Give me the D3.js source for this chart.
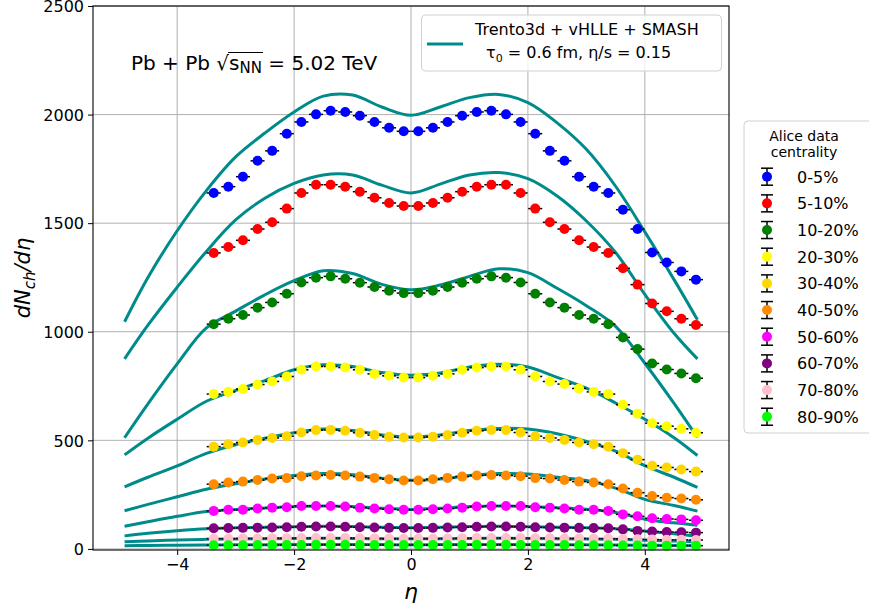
<!DOCTYPE html>
<html>
<head>
<meta charset="utf-8">
<script src="https://cdn.jsdelivr.net/npm/d3@7"></script>
<style>
  body { margin: 0; background: #fff; }
  text { font-family: "DejaVu Sans", sans-serif; fill: #000; }
</style>
</head>
<body>
<svg width="869" height="606"></svg>
<script>
//data: ALICE points
const eta = [-3.375,-3.125,-2.875,-2.625,-2.375,-2.125,-1.875,-1.625,-1.375,-1.125,-0.875,-0.625,-0.375,-0.125,
  0.125,0.375,0.625,0.875,1.125,1.375,1.625,1.875,2.125,2.375,2.625,2.875,3.125,3.375,3.625,3.875,4.125,4.375,4.625,4.875];

const c0_5 = [1639,1668,1714,1787,1833,1912,1966,2001,2018,2012,1995,1966,1939,1923,1923,1939,1966,1995,2012,2018,2001,1966,1912,1833,1787,1714,1668,1639,1562,1473,1365,1319,1278,1240];
const c5_10 = [1363,1390,1421,1473,1504,1567,1639,1677,1677,1668,1645,1617,1593,1579,1579,1593,1617,1645,1668,1677,1677,1639,1567,1504,1473,1421,1390,1363,1292,1217,1130,1094,1060,1031];
const c10_20 = [1035,1060,1077,1111,1135,1175,1227,1249,1255,1244,1226,1206,1189,1178,1178,1189,1206,1226,1244,1255,1249,1227,1175,1135,1111,1077,1060,1035,974,920,854,826,808,786];
const c20_30 = [713,723,736,757,771,794,825,840,840,835,825,806,797,789,789,797,806,825,835,840,840,825,794,771,759,739,723,713,664,622,579,565,553,535];
const c30_40 = [471,482,490,502,511,519,536,547,548,544,535,524,516,513,513,516,524,535,544,548,547,536,519,511,502,490,482,471,441,411,383,375,366,356];
const c40_50 = [298,306,310,317,324,326,335,338,340,338,333,327,321,315,315,321,327,333,338,340,338,335,326,324,317,310,306,298,278,259,244,236,232,226];
const c50_60 = [175,180,180,186,190,192,198,198,198,195,190,186,183,180,180,183,186,190,195,198,198,198,192,190,186,180,180,175,159,150,141,138,136,132];
const c60_70 = [95,96,97,98,99,100,102,103,103,102,100,99,97,96,96,97,99,100,102,103,103,102,100,99,98,97,96,95,90,83,80,78,77,75];
const c70_80 = [47,47,48,48,49,49,50,50,50,50,49,48,47,47,47,47,48,49,50,50,50,50,49,49,48,48,47,47,46,44,43,42,42,41];
const c80_90 = [17,17,17,18,18,18,18,19,19,19,18,18,18,18,18,18,18,18,19,19,19,18,18,18,18,17,17,17,16,16,15,15,15,15];

const centLabels = ["0-5%","5-10%","10-20%","20-30%","30-40%","40-50%","50-60%","60-70%","70-80%","80-90%"];
const centColors = ["#0000ff","#ff0000","#008000","#ffff00","#ffd700","#ff8c00","#ff00ff","#800080","#ffc0cb","#00ff00"];

//data: model curves
const mEta = [-4.9,-4.5,-4,-3.5,-3,-2.5,-2,-1.5,-1,-0.5,0,0.5,1,1.5,2,2.5,3,3.5,4,4.5,4.9];
const m0_5 = [1046,1250,1465,1650,1805,1915,2012,2085,2090,2035,1997,2035,2078,2093,2055,1962,1840,1670,1460,1240,1055];
const m5_10 = [875,1030,1205,1370,1515,1615,1683,1722,1722,1675,1639,1680,1722,1733,1705,1625,1510,1365,1172,993,875];
const m10_20 = [512,668,852,1018,1095,1170,1235,1281,1268,1218,1193,1215,1255,1290,1272,1200,1120,1025,855,670,513];
const m20_30 = [433,510,597,680,730,775,825,848,840,812,800,810,838,850,838,790,740,672,597,512,430];
const m30_40 = [286,330,382,440,480,510,535,552,545,525,515,525,545,555,552,530,495,450,383,330,283];
const m40_50 = [176,205,240,275,300,322,338,347,342,325,316,322,338,347,345,330,315,280,228,200,174];
const m50_60 = [104,125,150,172,182,188,195,198,195,187,182,187,195,198,195,190,183,168,137,120,109];
const m60_70 = [60,72,84,93,97,100,102,104,103,100,98,100,103,104,102,100,98,93,82,70,58];
const m70_80 = [33,37,41,44,46,47,48,49,48,47,47,47,48,49,48,47,46,44,40,36,33];
const m80_90 = [15,16,17,18,19,19,20,20,20,20,19,20,20,20,20,19,19,18,17,16,15];

const xTicks = [-4,-2,0,2,4];
const yTicks = [0,500,1000,1500,2000,2500];

const dataSets = [c0_5,c5_10,c10_20,c20_30,c30_40,c40_50,c50_60,c60_70,c70_80,c80_90];
const modelSets = [m0_5,m5_10,m10_20,m20_30,m30_40,m40_50,m50_60,m60_70,m70_80,m80_90];

const teal = "#008b8b";

//plot box
const plot = {left: 93, right: 729, top: 6, bottom: 550};

const xScale = d3.scaleLinear().domain([-5.44, 5.44]).range([plot.left, plot.right]);
const yScale = d3.scaleLinear().domain([-5, 2500]).range([plot.bottom, plot.top]);

const svg = d3.select("svg");
svg.append("rect").attr("width", 869).attr("height", 606).attr("fill", "#fff");

//grid
svg.append("g").selectAll("line").data(xTicks).join("line")
  .attr("x1", d => xScale(d)).attr("x2", d => xScale(d))
  .attr("y1", plot.top).attr("y2", plot.bottom)
  .attr("stroke", "#b0b0b0").attr("stroke-width", 1);
svg.append("g").selectAll("line").data(yTicks).join("line")
  .attr("x1", plot.left).attr("x2", plot.right)
  .attr("y1", d => yScale(d)).attr("y2", d => yScale(d))
  .attr("stroke", "#b0b0b0").attr("stroke-width", 1);

//model lines
const line = d3.line()
  .x((d, i) => xScale(mEta[i]))
  .y(d => yScale(d))
  .curve(d3.curveCatmullRom);

svg.append("g").selectAll("path").data(modelSets).join("path")
  .attr("d", d => line(d))
  .attr("fill", "none")
  .attr("stroke", teal)
  .attr("stroke-width", 3);

//data points (caps behind markers)
dataSets.forEach(function(vals, k) {
  const g = svg.append("g");
  g.selectAll("line").data(vals).join("line")
    .attr("x1", (d, i) => xScale(eta[i]) - 7).attr("x2", (d, i) => xScale(eta[i]) + 7)
    .attr("y1", d => yScale(d)).attr("y2", d => yScale(d))
    .attr("stroke", "#000").attr("stroke-width", 1.5);
  g.selectAll("circle").data(vals).join("circle")
    .attr("cx", (d, i) => xScale(eta[i]))
    .attr("cy", d => yScale(d))
    .attr("r", 5)
    .attr("fill", centColors[k]);
});

//axes
const xAxis = d3.axisBottom(xScale).tickValues(xTicks).tickSize(5).tickPadding(4).tickSizeOuter(0);
const yAxis = d3.axisLeft(yScale).tickValues(yTicks).tickSize(5).tickPadding(4).tickSizeOuter(0)
  .tickFormat(d3.format("d"));

const gx = svg.append("g").attr("transform", "translate(0," + plot.bottom + ")").call(xAxis);
const gy = svg.append("g").attr("transform", "translate(" + plot.left + ",0)").call(yAxis);
[gx, gy].forEach(function(g) {
  g.select(".domain").remove();
  g.selectAll("text").style("font-size", "16px").style("font-family", "DejaVu Sans");
  g.selectAll("line").attr("stroke", "#000");
});
gy.selectAll("text").attr("dy", "0.36em");

//frame
svg.append("rect")
  .attr("x", plot.left).attr("y", plot.top)
  .attr("width", plot.right - plot.left).attr("height", plot.bottom - plot.top)
  .attr("fill", "none").attr("stroke", "#000").attr("stroke-width", 1.1);

//axis labels
svg.append("text")
  .attr("x", xScale(0)).attr("y", 599)
  .style("text-anchor", "middle")
  .style("font-size", "22px").style("font-style", "italic")
  .text("η");

const yl = svg.append("text")
  .attr("transform", "translate(30," + ((plot.top + plot.bottom) / 2) + ") rotate(-90)")
  .style("text-anchor", "middle")
  .style("font-size", "21px").style("font-style", "italic");
yl.append("tspan").text("dN");
yl.append("tspan").attr("dy", 5).style("font-size", "15px").text("ch");
yl.append("tspan").attr("dy", -5).text("/dη");

//annotation
const ann = svg.append("text").attr("x", 131).attr("y", 70).style("font-size", "20px");
ann.append("tspan").text("Pb + Pb ");
ann.append("tspan").text("√");
ann.append("tspan").text("s");
ann.append("tspan").attr("dy", 3).style("font-size", "15px").text("NN");
ann.append("tspan").attr("dy", -3).text(" = 5.02 TeV");
// overline of the square root, from the radical to the end of the subscript
const nnEnd = ann.node().getEndPositionOfChar(11);
const radEnd = ann.node().getEndPositionOfChar(8);
svg.append("line")
  .attr("x1", radEnd.x - 1).attr("x2", nnEnd.x + 1)
  .attr("y1", 52.5).attr("y2", 52.5)
  .attr("stroke", "#000").attr("stroke-width", 1);

//model legend
svg.append("rect")
  .attr("x", 421.5).attr("y", 15).attr("width", 300).attr("height", 56).attr("rx", 4)
  .attr("fill", "#fff").attr("fill-opacity", 0.8).attr("stroke", "#d0d0d0");
svg.append("line")
  .attr("x1", 427).attr("x2", 463).attr("y1", 44).attr("y2", 44)
  .attr("stroke", teal).attr("stroke-width", 3);
svg.append("text").attr("x", 475).attr("y", 35).style("font-size", "16px").text("Trento3d + vHLLE + SMASH");
const l2 = svg.append("text").attr("x", 486).attr("y", 58).style("font-size", "16px");
l2.append("tspan").text("τ");
l2.append("tspan").attr("dy", 4).style("font-size", "11px").text("0");
l2.append("tspan").attr("dy", -4).text(" = 0.6 fm, η/s = 0.15");

//data legend
const lg = svg.append("g");
lg.append("rect")
  .attr("x", 744).attr("y", 121).attr("width", 140).attr("height", 312).attr("rx", 4)
  .attr("fill", "#fff").attr("stroke", "#d0d0d0");
lg.append("text").attr("x", 804).attr("y", 141).style("text-anchor", "middle").style("font-size", "14px").text("Alice data");
lg.append("text").attr("x", 804).attr("y", 157).style("text-anchor", "middle").style("font-size", "14px").text("centrality");

const rows = lg.selectAll("g.row").data(centLabels).join("g")
  .attr("class", "row")
  .attr("transform", (d, i) => "translate(767," + (176.7 + i * 26.67) + ")");
rows.append("line").attr("x1", 0).attr("x2", 0).attr("y1", -8.5).attr("y2", 8.5).attr("stroke", "#000").attr("stroke-width", 1.5);
rows.append("line").attr("x1", -6).attr("x2", 6).attr("y1", -8.5).attr("y2", -8.5).attr("stroke", "#000").attr("stroke-width", 1.5);
rows.append("line").attr("x1", -6).attr("x2", 6).attr("y1", 8.5).attr("y2", 8.5).attr("stroke", "#000").attr("stroke-width", 1.5);
rows.append("circle").attr("r", 5).attr("fill", (d, i) => centColors[i]);
rows.append("text").attr("x", 30).attr("y", 6).style("font-size", "16px").text(d => d);
</script>
</body>
</html>
